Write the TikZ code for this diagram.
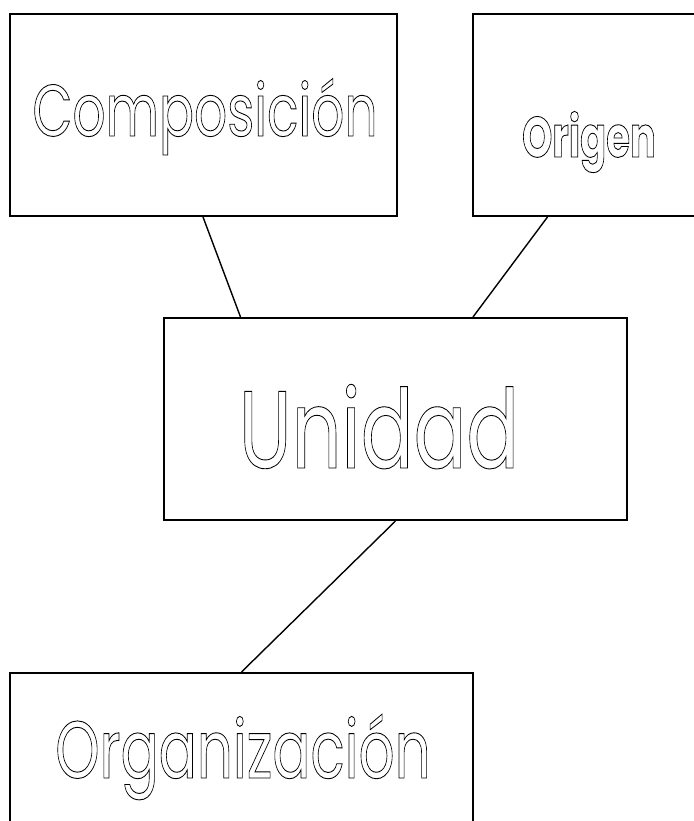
\documentclass[tikz,border=0pt]{standalone}
\usepackage{fontspec}
\setmainfont{Poppins}
\newcommand\outltext[1]{\special{pdf:literal direct 1 Tr 0.9 w}#1\special{pdf:literal direct 0 Tr}}
\tikzset{
  box/.style={draw=black, line width=2pt, rectangle, fill=none, inner sep=0pt},
  lbl/.style={anchor=base, inner sep=0pt, font=\rmfamily, xscale=0.71},
  conn/.style={draw=black, line width=1.4pt}
}
\begin{document}
\begin{tikzpicture}[x=1pt,y=-1pt]
\useasboundingbox (0,0) rectangle (693,821);
\fill[white] (0,0) rectangle (693,821);
% boxes
\node[box, minimum width=387pt, minimum height=202pt] (comp) at (203,115) {};
\node[box, minimum width=247pt, minimum height=202pt] (orig) at (596.5,115) {};
\node[box, minimum width=463pt, minimum height=202pt] (unid) at (395.5,419) {};
\node[box, minimum width=463pt, minimum height=202pt] (orga) at (241.5,774) {};
% labels
\node[lbl] (tcomp) at (205,136) {\fontsize{73}{80}\selectfont\outltext{Composición}};
\node[lbl, xscale=0.95] (torig) at (589,157) {\fontsize{57}{64}\selectfont\bfseries\outltext{Origen}};
\node[lbl] (tunid) at (379,468) {\fontsize{110}{120}\selectfont\outltext{Unidad}};
\node[lbl, xscale=0.98] (torga) at (243,778) {\fontsize{81}{90}\selectfont\outltext{Organización}};
% connectors
\draw[conn] (comp.south) -- ([xshift=77.5pt]unid.north west);
\draw[conn] ([xshift=75.5pt]orig.south west) -- ([xshift=-155pt]unid.north east);
\draw[conn] (unid.south) -- (orga.north);
\end{tikzpicture}
\end{document}
